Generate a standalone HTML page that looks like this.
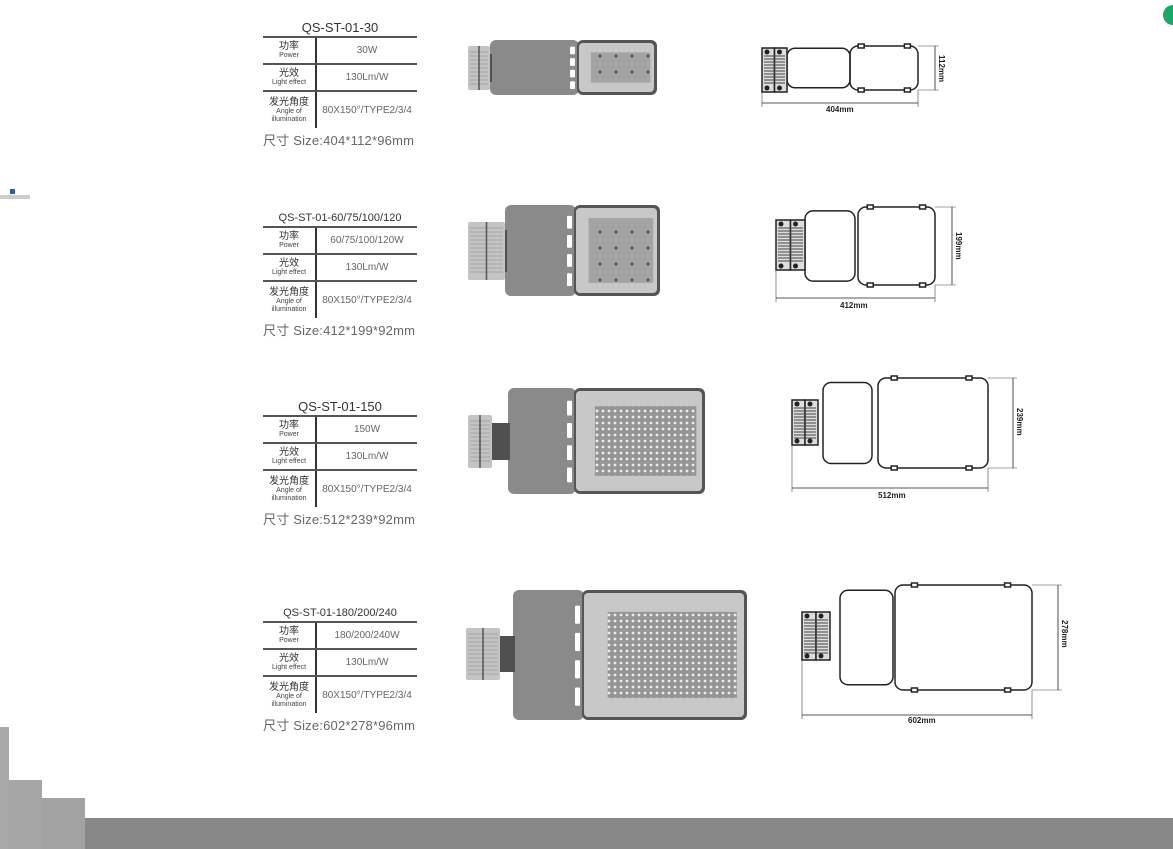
<!DOCTYPE html>
<html><head><meta charset="utf-8">
<style>
body{margin:0;width:1173px;height:849px;position:relative;background:#fff;overflow:hidden;font-family:"Liberation Sans","Noto Sans CJK SC",sans-serif;color:#555}
.t{position:absolute;left:263px;width:154px}
.ttl{text-align:center;color:#333;font-size:13px;line-height:16px;white-space:nowrap}
.ttl.s{font-size:11px}
.row{position:relative;border-top:2px solid #555;display:flex}
.row .l{width:52px;border-right:2px solid #333;text-align:center;color:#333;font-size:10px;line-height:11px;display:flex;flex-direction:column;justify-content:center}
.row .l small{font-size:7px;line-height:8px;color:#444}
.row .r{flex:1;text-align:center;font-size:10px;color:#666;display:flex;align-items:center;justify-content:center;white-space:nowrap}
.sz{font-size:13px;color:#666;white-space:nowrap;margin-top:2px;letter-spacing:0.2px}
.dl{position:absolute;font-size:8px;font-weight:bold;color:#222;font-family:"Liberation Sans",sans-serif}
.dv{position:absolute;font-size:8px;font-weight:bold;color:#222;transform:rotate(90deg);transform-origin:left top}
</style></head><body>

<div class="t" style="top:20px"><div class="ttl">QS-ST-01-30</div>
<div class="row" style="height:25px"><div class="l">功率<small>Power</small></div><div class="r">30W</div></div>
<div class="row" style="height:25px"><div class="l">光效<small>Light effect</small></div><div class="r">130Lm/W</div></div>
<div class="row" style="height:36px;border-bottom:none"><div class="l">发光角度<small>Angle of<br>illumination</small></div><div class="r">80X150°/TYPE2/3/4</div></div>
<div class="sz">尺寸 Size:404*112*96mm</div></div>

<div class="t" style="top:210px"><div class="ttl s">QS-ST-01-60/75/100/120</div>
<div class="row" style="height:25px"><div class="l">功率<small>Power</small></div><div class="r">60/75/100/120W</div></div>
<div class="row" style="height:25px"><div class="l">光效<small>Light effect</small></div><div class="r">130Lm/W</div></div>
<div class="row" style="height:36px"><div class="l">发光角度<small>Angle of<br>illumination</small></div><div class="r">80X150°/TYPE2/3/4</div></div>
<div class="sz">尺寸 Size:412*199*92mm</div></div>

<div class="t" style="top:399px"><div class="ttl">QS-ST-01-150</div>
<div class="row" style="height:25px"><div class="l">功率<small>Power</small></div><div class="r">150W</div></div>
<div class="row" style="height:25px"><div class="l">光效<small>Light effect</small></div><div class="r">130Lm/W</div></div>
<div class="row" style="height:36px"><div class="l">发光角度<small>Angle of<br>illumination</small></div><div class="r">80X150°/TYPE2/3/4</div></div>
<div class="sz">尺寸 Size:512*239*92mm</div></div>

<div class="t" style="top:605px"><div class="ttl s">QS-ST-01-180/200/240</div>
<div class="row" style="height:25px"><div class="l">功率<small>Power</small></div><div class="r">180/200/240W</div></div>
<div class="row" style="height:25px"><div class="l">光效<small>Light effect</small></div><div class="r">130Lm/W</div></div>
<div class="row" style="height:36px"><div class="l">发光角度<small>Angle of<br>illumination</small></div><div class="r">80X150°/TYPE2/3/4</div></div>
<div class="sz">尺寸 Size:602*278*96mm</div></div>

<svg id="s" width="1173" height="849" style="position:absolute;left:0;top:0">
<defs>
<pattern id="led" width="6" height="6" patternUnits="userSpaceOnUse"><rect width="6" height="6" fill="#959595"/><circle cx="3" cy="3" r="1.4" fill="#ececec"/></pattern>
<pattern id="led2" width="16" height="16" patternUnits="userSpaceOnUse"><rect width="16" height="16" fill="#a4a4a4"/><circle cx="8" cy="8" r="1.6" fill="#555"/></pattern>
</defs>
<g id="g"></g>
<rect x="85" y="818" width="1088" height="31" fill="#888"/>
<rect x="0" y="727" width="9" height="122" fill="#a8a8a8"/>
<rect x="9" y="780" width="33" height="69" fill="#a6a6a6"/>
<rect x="42" y="798" width="43" height="51" fill="#a2a2a2"/>
<circle cx="1173" cy="15" r="10" fill="#1aa86a"/>
<rect x="0" y="195" width="30" height="4" fill="#ccc"/><rect x="10" y="189" width="5" height="5" fill="#2a5fb0"/>
</svg>

<div class="dl" style="left:826px;top:105px">404mm</div>
<div class="dv" style="left:946px;top:55px">112mm</div>
<div class="dl" style="left:840px;top:301px">412mm</div>
<div class="dv" style="left:963px;top:232px">199mm</div>
<div class="dl" style="left:878px;top:491px">512mm</div>
<div class="dv" style="left:1024px;top:408px">239mm</div>
<div class="dl" style="left:908px;top:716px">602mm</div>
<div class="dv" style="left:1069px;top:620px">278mm</div>

<script>
var g=document.getElementById('g'),h='';
function R(x,y,w,hh,f,rx,st){h+='<rect x="'+x+'" y="'+y+'" width="'+w+'" height="'+hh+'" fill="'+f+'" rx="'+(rx||0)+'"'+(st?' stroke="'+st+'" stroke-width="1.5"':'')+'/>';}
function L(x1,y1,x2,y2,c,w){h+='<line x1="'+x1+'" y1="'+y1+'" x2="'+x2+'" y2="'+y2+'" stroke="'+(c||'#333')+'" stroke-width="'+(w||0.8)+'"/>';}
function lamp(m0,m1,my0,my1,b0,b1,p1,y0,y1,pat){
 R(b0,y0,b1-b0+6,y1-y0,'#8a8a8a',6);
 R(m1-2,my0+8,b0-m1+4,my1-my0-16,'#505050');
 R(m0,my0,m1-m0,my1-my0,'#c4c4c4',2);
 for(var yy=my0+6;yy<my1-4;yy+=4)L(m0+2,yy,m1-2,yy,'#999',0.7);
 L((m0+m1)/2,my0,(m0+m1)/2,my1,'#555',1.5);
 var sh=(y1-y0)/5;
 for(var i=0;i<4;i++)R(b1-3,y0+sh*0.6+i*sh*1.05,5,sh*0.7,'#fff',1);
 R(b1+4,y0,p1-b1-4,y1-y0,'#555',6);
 var bw=(p1-b1)*0.14;
 R(b1+6,y0+3,p1-b1-9,y1-y0-6,'#c8c8c8',4);
 R(b1+6+bw,y0+3+bw*0.8,p1-b1-9-bw*1.3,y1-y0-6-bw*1.6,'url(#'+pat+')');
}
lamp(468,490,46,90,490,573,657,40,95,'led2');
lamp(468,505,222,280,505,570,660,205,296,'led2');
lamp(468,492,415,468,508,570,705,388,494,'led');
lamp(466,500,628,680,513,578,747,590,720,'led');
function dr(k0,k1,ky0,ky1,l0,l1,r0,r1,y0,y1,dy,vx){
 var s='#222';
 R(l0,y0+(y1-y0)*0.05,l1-l0,(y1-y0)*0.9,'none',8,s);
 R(r0,y0,r1-r0,y1-y0,'none',8,s);
 R(k0,ky0,(k1-k0)/2,ky1-ky0,'#ddd',0,s);R((k0+k1)/2,ky0,(k1-k0)/2,ky1-ky0,'#ddd',0,s);
 for(var yy=ky0+8;yy<ky1-6;yy+=3)L(k0+2,yy,k1-2,yy,'#444',1);
 [k0+5,(k0+k1)/2+5].forEach(function(x){h+='<circle cx="'+x+'" cy="'+(ky0+4)+'" r="2.5" fill="#222"/><circle cx="'+x+'" cy="'+(ky1-4)+'" r="2.5" fill="#222"/>';});
 R(r0+(r1-r0)*0.12,y0-2,6,4,'#fff',0,s);R(r1-(r1-r0)*0.2,y0-2,6,4,'#fff',0,s);
 R(r0+(r1-r0)*0.12,y1-2,6,4,'#fff',0,s);R(r1-(r1-r0)*0.2,y1-2,6,4,'#fff',0,s);
 L(k0,ky1,k0,dy+4,'#444',0.6);L(r1,y1,r1,dy+4,'#444',0.6);
 L(k0,dy,r1,dy,'#222',0.8);
 L(r1,y0,vx+4,y0,'#444',0.6);L(r1,y1,vx+4,y1,'#444',0.6);
 L(vx,y0,vx,y1,'#222',0.8);
}
dr(762,787,48,92,787,850,850,918,46,90,103,935);
dr(776,805,220,270,805,855,858,935,207,285,298,952);
dr(792,818,400,445,823,872,878,988,378,468,488,1013);
dr(802,830,612,660,840,893,895,1032,585,690,715,1058);
g.innerHTML=h;
</script>
</body></html>
